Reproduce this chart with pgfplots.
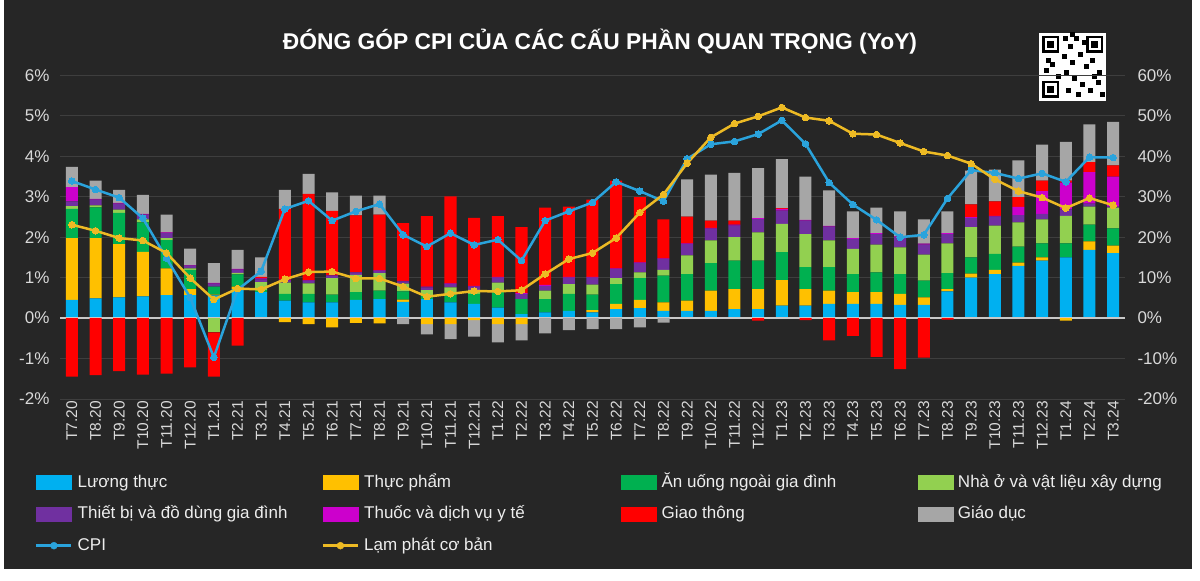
\documentclass[border=0pt]{standalone}
\usepackage{fontspec}
\setmainfont{Liberation Sans}
\usepackage{pgfplots}
\usepackage{pgfplotstable}
\pgfplotsset{compat=1.18}
\definecolor{bg}{HTML}{262626}
\definecolor{gridc}{HTML}{3E3E3E}
\definecolor{zeroc}{HTML}{C8C8C8}
\definecolor{tickc}{HTML}{D9D9D9}
\definecolor{legc}{HTML}{EDEDED}
\definecolor{ltc}{HTML}{00B0F0}
\definecolor{tpc}{HTML}{FFC000}
\definecolor{auc}{HTML}{00B050}
\definecolor{nhc}{HTML}{92D050}
\definecolor{tbc}{HTML}{7030A0}
\definecolor{thc}{HTML}{CC00CC}
\definecolor{gtc}{HTML}{FF0000}
\definecolor{gdc}{HTML}{A6A6A6}
\definecolor{cpic}{HTML}{2AA3DC}
\definecolor{corec}{HTML}{EDBA24}
\newcommand\tickfont{\fontsize{17bp}{20bp}\selectfont}
\newcommand\xfont{\fontsize{15.5bp}{18bp}\selectfont}
\newcommand\legfont{\fontsize{17bp}{20bp}\selectfont}

\pgfplotstableread{
idx lt tp au nh tb th gt gd cpi core
0 0.45 1.53 0.72 0.07 0.12 0.35 -1.45 0.50 3.39 2.31
1 0.49 1.49 0.76 0.05 0.14 0.02 -1.41 0.45 3.18 2.16
2 0.51 1.32 0.77 0.08 0.15 0.02 -1.31 0.32 2.98 1.98
3 0.54 1.10 0.73 0.07 0.12 0.02 -1.40 0.47 2.47 1.92
4 0.57 0.66 0.70 0.05 0.12 0.02 -1.37 0.44 1.48 1.61
5 0.57 0.15 0.47 0.04 0.07 0.01 -1.22 0.41 0.51 0.99
6 0.56 0.02 0.20 -0.35 0.07 0.02 -1.10 0.49 -0.97 0.46
7 0.72 0.06 0.30 0.04 0.08 0.02 -0.68 0.47 0.70 0.73
8 0.64 0.00 0.05 0.20 0.07 0.02 0.04 0.48 1.16 0.71
9 0.43 -0.10 0.17 0.28 0.05 0.02 1.75 0.47 2.70 0.96
10 0.39 -0.15 0.21 0.26 0.07 0.01 2.13 0.50 2.90 1.14
11 0.39 -0.23 0.19 0.41 0.06 0.01 1.59 0.46 2.41 1.15
12 0.45 -0.12 0.19 0.43 0.06 0.01 1.40 0.49 2.64 0.98
13 0.47 -0.13 0.21 0.43 0.06 0.01 1.38 0.47 2.82 0.98
14 0.40 0.06 0.20 0.19 0.06 0.01 1.43 -0.15 2.06 0.78
15 0.47 -0.15 0.10 0.12 0.07 0.02 1.74 -0.25 1.77 0.53
16 0.39 -0.15 0.19 0.18 0.08 0.02 2.15 -0.37 2.10 0.60
17 0.35 -0.05 0.25 0.10 0.08 0.02 1.68 -0.41 1.81 0.67
18 0.26 -0.15 0.38 0.24 0.12 0.02 1.50 -0.45 1.94 0.66
19 0.10 -0.15 0.37 0.00 0.13 0.02 1.63 -0.40 1.42 0.69
20 0.14 0.00 0.33 0.21 0.12 0.02 1.91 -0.38 2.41 1.09
21 0.18 0.00 0.42 0.24 0.16 0.02 1.74 -0.30 2.64 1.46
22 0.14 0.06 0.38 0.25 0.17 0.02 1.91 -0.27 2.86 1.61
23 0.22 0.13 0.49 0.15 0.22 0.02 2.17 -0.27 3.37 1.98
24 0.25 0.20 0.54 0.14 0.23 0.02 1.61 -0.23 3.14 2.61
25 0.18 0.21 0.66 0.14 0.27 0.02 0.96 -0.11 2.89 3.06
26 0.18 0.25 0.66 0.46 0.28 0.02 0.66 0.92 3.94 3.83
27 0.18 0.50 0.68 0.56 0.29 0.02 0.18 1.14 4.30 4.47
28 0.22 0.50 0.70 0.58 0.29 0.02 0.10 1.18 4.37 4.81
29 0.22 0.50 0.70 0.70 0.33 0.02 -0.06 1.24 4.55 4.99
30 0.31 0.63 0.69 0.70 0.33 0.04 0.02 1.21 4.89 5.21
31 0.31 0.41 0.54 0.82 0.33 0.02 -0.05 1.07 4.31 4.96
32 0.35 0.33 0.58 0.66 0.34 0.02 -0.55 0.88 3.35 4.88
33 0.35 0.29 0.45 0.62 0.25 0.02 -0.44 0.66 2.81 4.56
34 0.35 0.29 0.49 0.69 0.26 0.02 -0.96 0.63 2.43 4.54
35 0.33 0.27 0.49 0.66 0.25 0.02 -1.26 0.62 2.00 4.33
36 0.33 0.18 0.42 0.64 0.25 0.02 -0.98 0.60 2.06 4.12
37 0.66 0.06 0.39 0.74 0.23 0.02 -0.04 0.54 2.96 4.02
38 1.00 0.10 0.40 0.75 0.23 0.02 0.31 0.84 3.66 3.82
39 1.09 0.10 0.40 0.70 0.22 0.02 0.36 0.78 3.59 3.43
40 1.29 0.08 0.40 0.60 0.18 0.20 0.24 0.91 3.45 3.14
41 1.42 0.08 0.35 0.59 0.14 0.56 0.26 0.89 3.58 2.98
42 1.50 -0.06 0.35 0.68 0.16 0.66 0.05 0.96 3.37 2.72
43 1.69 0.21 0.41 0.45 0.07 0.78 0.25 0.93 3.98 2.97
44 1.61 0.18 0.43 0.51 0.03 0.74 0.28 1.07 3.97 2.79
}\data

\pgfplotsset{
  base/.style={
    at={(60bp,182bp)}, anchor=south west, scale only axis,
    width=1065bp, height=323.5bp,
    xmin=-0.5, xmax=44.5, ymin=-2, ymax=6,
    enlargelimits=false, axis line style={draw=none},
    major tick length=0pt,
  },
  barstack/.style={ybar stacked, bar width=12bp},
}

\begin{document}
\begin{tikzpicture}[x=1bp,y=1bp]
\useasboundingbox (0,0) rectangle (1200,581);
\fill[white] (0,0) rectangle (1200,581);
\fill[bg] (4,12) rectangle (1192,581);
\node[font=\bfseries\fontsize{22.8bp}{26bp}\selectfont, text=white] at (600,539) {ĐÓNG GÓP CPI CỦA CÁC CẤU PHẦN QUAN TRỌNG (YoY)};
% QR-like badge
\fill[white] (1039,480) rectangle (1106,548);
\foreach \qx/\qy in {1042/528,1086/528,1042/483}{
  \fill[black] (\qx,\qy) rectangle ++(17,17);
  \fill[white] (\qx+2.5,\qy+2.5) rectangle ++(12,12);
  \fill[black] (\qx+5,\qy+5) rectangle ++(7,7);
}
\foreach \qx/\qy in {1063/540,1068/532,1074/540,1062/522,1070/516,1078/524,1084/512,1090/518,1097/506,1064/506,1072/500,1080/494,1088/488,1096/496,1100/484,1066/488,1076/484,1092/502,1044/508,1050/514,1056/502,1046/518,1082/536,1070/544}{
  \fill[black] (\qx,\qy) rectangle ++(5,5);
}

% positive stacks
\begin{axis}[base, barstack,
  ymajorgrids, grid style={draw=gridc, line width=0.9bp},
  ytick={-2,-1,0,1,2,3,4,5,6},
  yticklabels={-2\%,-1\%,0\%,1\%,2\%,3\%,4\%,5\%,6\%},
  yticklabel style={font=\tickfont, text=tickc, xshift=-7bp},
  xtick={0,...,44},
  xticklabels={T7.20,T8.20,T9.20,T10.20,T11.20,T12.20,T1.21,T2.21,T3.21,T4.21,T5.21,T6.21,T7.21,T8.21,T9.21,T10.21,T11.21,T12.21,T1.22,T2.22,T3.22,T4.22,T5.22,T6.22,T7.22,T8.22,T9.22,T10.22,T11.22,T12.22,T1.23,T2.23,T3.23,T4.23,T5.23,T6.23,T7.23,T8.23,T9.23,T10.23,T11.23,T12.23,T1.24,T2.24,T3.24},
  xticklabel style={rotate=90, anchor=east, font=\xfont, text=tickc, inner sep=2bp},
]
\addplot[fill=ltc, draw=none] table[x=idx, y expr={max(\thisrow{lt},0)}] {\data};
\addplot[fill=tpc, draw=none] table[x=idx, y expr={max(\thisrow{tp},0)}] {\data};
\addplot[fill=auc, draw=none] table[x=idx, y expr={max(\thisrow{au},0)}] {\data};
\addplot[fill=nhc, draw=none] table[x=idx, y expr={max(\thisrow{nh},0)}] {\data};
\addplot[fill=tbc, draw=none] table[x=idx, y expr={max(\thisrow{tb},0)}] {\data};
\addplot[fill=thc, draw=none] table[x=idx, y expr={max(\thisrow{th},0)}] {\data};
\addplot[fill=gtc, draw=none] table[x=idx, y expr={max(\thisrow{gt},0)}] {\data};
\addplot[fill=gdc, draw=none] table[x=idx, y expr={max(\thisrow{gd},0)}] {\data};
\end{axis}

% negative stacks
\begin{axis}[base, barstack, hide axis]
\addplot[fill=ltc, draw=none] table[x=idx, y expr={min(\thisrow{lt},0)}] {\data};
\addplot[fill=tpc, draw=none] table[x=idx, y expr={min(\thisrow{tp},0)}] {\data};
\addplot[fill=auc, draw=none] table[x=idx, y expr={min(\thisrow{au},0)}] {\data};
\addplot[fill=nhc, draw=none] table[x=idx, y expr={min(\thisrow{nh},0)}] {\data};
\addplot[fill=tbc, draw=none] table[x=idx, y expr={min(\thisrow{tb},0)}] {\data};
\addplot[fill=thc, draw=none] table[x=idx, y expr={min(\thisrow{th},0)}] {\data};
\addplot[fill=gtc, draw=none] table[x=idx, y expr={min(\thisrow{gt},0)}] {\data};
\addplot[fill=gdc, draw=none] table[x=idx, y expr={min(\thisrow{gd},0)}] {\data};
\draw[zeroc, line width=1.8bp] (axis cs:-0.5,0) -- (axis cs:44.5,0);
\end{axis}

% lines, right axis, legend
\begin{axis}[base, hide x axis,
  ytick={-2,-1,0,1,2,3,4,5,6},
  yticklabels={-20\%,-10\%,0\%,10\%,20\%,30\%,40\%,50\%,60\%},
  yticklabel pos=right,
  yticklabel style={font=\tickfont, text=tickc, anchor=west, xshift=9bp},
  legend columns=4,
  legend style={at={(axis description cs:-0.0235,-0.2318)}, anchor=north west,
    draw=none, fill=none, inner sep=0pt, column sep=5bp, row sep=14.5bp,
    nodes={inner sep=0pt, text=legc, font=\legfont, text height=13bp, text depth=4bp}},
]
\addlegendimage{legend image code/.code={\fill[ltc] (0bp,-7bp) rectangle (35bp,7bp);}}
\addlegendentry{\makebox[239bp][l]{Lương thực}}
\addlegendimage{legend image code/.code={\fill[tpc] (0bp,-7bp) rectangle (35bp,7bp);}}
\addlegendentry{\makebox[252bp][l]{Thực phẩm}}
\addlegendimage{legend image code/.code={\fill[auc] (0bp,-7bp) rectangle (35bp,7bp);}}
\addlegendentry{\makebox[251bp][l]{Ăn uống ngoài gia đình}}
\addlegendimage{legend image code/.code={\fill[nhc] (0bp,-7bp) rectangle (35bp,7bp);}}
\addlegendentry{\makebox[230bp][l]{Nhà ở và vật liệu xây dựng}}
\addlegendimage{legend image code/.code={\fill[tbc] (0bp,-7bp) rectangle (35bp,7bp);}}
\addlegendentry{\makebox[239bp][l]{Thiết bị và đồ dùng gia đình}}
\addlegendimage{legend image code/.code={\fill[thc] (0bp,-7bp) rectangle (35bp,7bp);}}
\addlegendentry{\makebox[252bp][l]{Thuốc và dịch vụ y tế}}
\addlegendimage{legend image code/.code={\fill[gtc] (0bp,-7bp) rectangle (35bp,7bp);}}
\addlegendentry{\makebox[251bp][l]{Giao thông}}
\addlegendimage{legend image code/.code={\fill[gdc] (0bp,-7bp) rectangle (35bp,7bp);}}
\addlegendentry{\makebox[230bp][l]{Giáo dục}}
\addlegendimage{legend image code/.code={\draw[cpic, line width=2.5bp] (0bp,0bp) -- (35bp,0bp); \fill[cpic] (17.5bp,0bp) circle (3.5bp);}}
\addlegendentry{\makebox[239bp][l]{CPI}}
\addlegendimage{legend image code/.code={\draw[corec, line width=2.5bp] (0bp,0bp) -- (35bp,0bp); \fill[corec] (17.5bp,0bp) circle (3.5bp);}}
\addlegendentry{\makebox[252bp][l]{Lạm phát cơ bản}}
\addplot[forget plot, cpic, line width=2.5bp, mark=*, mark size=3.3bp, mark options={fill=cpic, draw=cpic, line width=0pt}] table[x=idx, y=cpi] {\data};
\addplot[forget plot, corec, line width=2.5bp, mark=*, mark size=3.3bp, mark options={fill=corec, draw=corec, line width=0pt}] table[x=idx, y=core] {\data};
\end{axis}
\end{tikzpicture}
\end{document}
